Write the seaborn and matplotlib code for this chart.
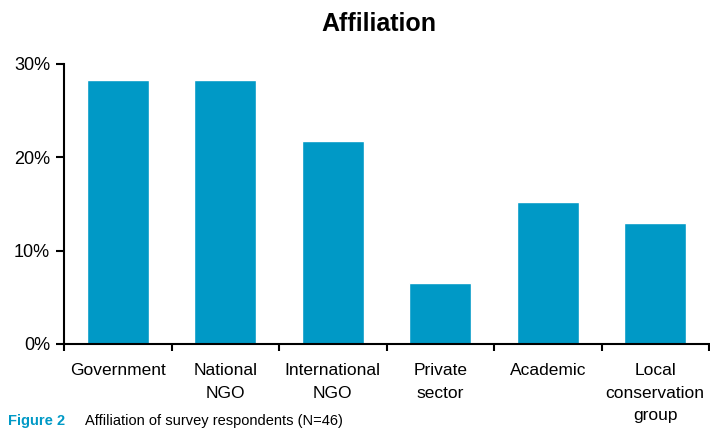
import seaborn as sns
import matplotlib.pyplot as plt
import pandas as pd

categories = ["Government", "National\nNGO", "International\nNGO",
              "Private\nsector", "Academic", "Local\nconservation\ngroup"]
shares = [28.3, 28.3, 21.7, 6.5, 15.2, 13.0]
y_ticks = [0, 10, 20, 30]
y_labels = ["0%", "10%", "20%", "30%"]

sns.set_style("ticks")
plt.rcParams["font.family"] = ["Liberation Sans", "DejaVu Sans"]
plt.rcParams["text.color"] = "black"
plt.rcParams["xtick.color"] = "black"
plt.rcParams["ytick.color"] = "black"
plt.rcParams["axes.edgecolor"] = "black"

df = pd.DataFrame({"affiliation": categories, "share": shares})

fig = plt.figure(figsize=(7.1, 4.29), dpi=100)
ax = fig.add_axes([64 / 710, 1 - 344 / 429, 645 / 710, 280 / 429])

sns.barplot(data=df, x="affiliation", y="share", color="#0099C6",
            saturation=1, width=0.58, ax=ax)

ax.set_xlim(-0.5, len(categories) - 0.5)
ax.set_ylim(0, 30)
ax.set_yticks(y_ticks)
ax.set_yticklabels(y_labels, fontsize=13)
ax.set_xlabel("")
ax.set_ylabel("")

# category labels without ticks, boundary ticks as minor ticks
ax.tick_params(axis="x", which="major", length=0, labelsize=12.5, pad=14)
ax.set_xticks([i - 0.5 for i in range(len(categories) + 1)], minor=True)
ax.tick_params(axis="x", which="minor", length=5, width=1.5, direction="out")
ax.tick_params(axis="y", length=6, width=1.5, direction="out", pad=4)
for lbl in ax.get_xticklabels():
    lbl.set_linespacing(1.6)

sns.despine(ax=ax)
ax.spines["left"].set_linewidth(1.5)
ax.spines["bottom"].set_linewidth(1.5)

fig.text(379 / 710, 1 - 24 / 429, "Affiliation", ha="center", va="center",
         fontsize=18, fontweight="bold",
         family=["Liberation Sans Narrow", "Liberation Sans", "DejaVu Sans"])

# caption at the bottom edge
fig.text(8 / 710, 1 - 425 / 429, "Figure 2", color="#0099C6",
         fontweight="bold", fontsize=10.5, va="baseline")
fig.text(85 / 710, 1 - 425 / 429, "Affiliation of survey respondents (N=46)",
         fontsize=10.5, va="baseline")

fig.savefig("out.png", dpi=100)
